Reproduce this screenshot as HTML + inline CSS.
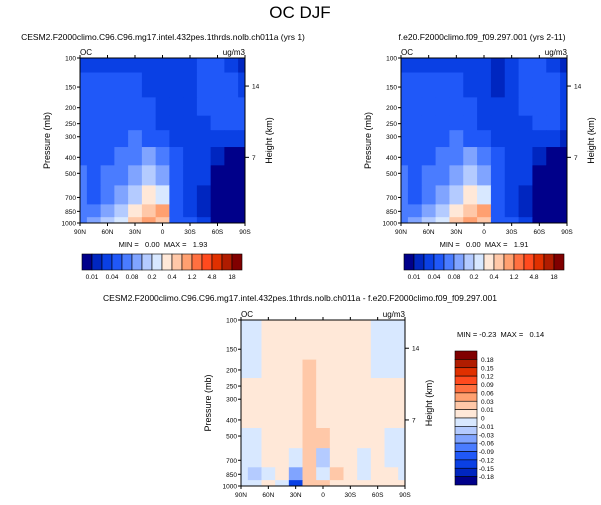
<!DOCTYPE html>
<html><head><meta charset="utf-8"><style>
body{margin:0;background:#fff;}
svg{display:block;font-family:"Liberation Sans",sans-serif;}
text{white-space:pre;}
</style></head><body>
<svg id="s" width="601" height="505"></svg>
<script>
const lats=['90N','75N','60N','45N','30N','15N','0','15S','30S','45S','60S','75S','90S'];
const levels=[100,150,200,250,300,400,500,700,850,1000];
const topThresholds=[0.01,0.02,0.04,0.06,0.08,0.1,0.2,0.3,0.4,0.8,1.2,2.4,4.8,9.6,18];
const topLabels=['0.01','0.04','0.08','0.2','0.4','1.2','4.8','18'];
const diffThresholds=[-0.18,-0.15,-0.12,-0.09,-0.06,-0.03,-0.01,0,0.01,0.03,0.06,0.09,0.12,0.15,0.18];
const diffLabels=['0.18','0.15','0.12','0.09','0.06','0.03','0.01','0','-0.01','-0.03','-0.06','-0.09','-0.12','-0.15','-0.18'];
const palette=['#00008a','#0026c0','#0a40e4','#2058f8','#4a7cff','#80a4ff','#b4cbff','#d8e8ff','#ffe8d8','#ffc8a8','#ffa070','#ff7040','#ff4a1e','#e03000','#b01c00','#800000'];
const cv=[0.005,0.015,0.03,0.05,0.07,0.09,0.15,0.25,0.35,0.6,1.0,1.8];
const dv=[-0.2,-0.16,-0.13,-0.1,-0.07,-0.04,-0.02,-0.005,0.005,0.02,0.04];
const leftField=[
[2,2,2,2,2,2,2,2,2,3,3,2,1],
[3,3,3,3,3,2,2,2,2,3,3,3,2],
[3,3,3,3,3,3,2,2,2,3,3,3,3],
[3,3,3,3,3,3,2,2,2,2,3,3,3],
[3,3,3,3,4,3,3,2,2,2,2,2,2],
[3,3,3,4,4,5,4,3,2,2,1,0,0],
[4,3,4,4,5,6,5,3,2,2,0,0,0],
[4,3,4,5,6,8,7,3,2,1,0,0,0],
[4,4,5,6,8,9,10,3,2,1,0,0,0],
[4,5,6,7,9,10,9,3,3,2,0,0,0]].map(r=>r.map(i=>cv[i]));
const rightField=[
[2,2,2,2,2,2,2,1,2,3,3,2,1],
[3,3,3,3,3,2,2,1,2,3,3,3,2],
[3,3,3,3,3,3,2,2,2,3,3,3,2],
[3,3,3,3,3,3,2,2,2,2,3,3,2],
[3,3,3,3,4,3,3,2,2,2,2,2,1],
[3,3,3,4,4,5,4,3,2,2,1,0,0],
[4,3,4,4,5,6,5,3,2,2,0,0,0],
[4,3,4,5,6,8,7,3,2,1,0,0,0],
[4,4,5,6,8,9,10,3,2,1,0,0,0],
[4,5,6,7,9,10,9,3,3,2,0,0,0]].map(r=>r.map(i=>cv[i]));
const diffField=[
[7,7,8,8,8,8,8,8,8,8,7,7,7],
[7,7,8,8,8,8,8,8,8,8,7,7,7],
[7,7,8,8,8,9,8,8,8,8,7,7,7],
[8,8,8,8,8,9,8,8,8,8,8,8,8],
[8,8,8,8,8,9,8,8,8,8,8,8,8],
[8,8,8,8,8,9,8,8,8,8,8,8,8],
[7,7,8,8,8,9,9,8,8,8,8,7,7],
[7,7,8,8,7,9,6,8,8,7,8,7,7],
[7,6,7,8,5,9,7,9,8,7,8,8,7],
[7,7,8,7,2,9,9,8,8,8,8,8,8]].map(r=>r.map(i=>dv[i]));

const NS='http://www.w3.org/2000/svg';
const svg=document.getElementById('s');
function el(tag,attrs,parent,text){const e=document.createElementNS(NS,tag);for(const k in attrs)e.setAttribute(k,attrs[k]);if(text!==undefined)e.textContent=text;(parent||svg).appendChild(e);return e;}
function cls(v,th){let i=0;while(i<th.length&&v>=th[i])i++;return i;}

function panel(x0,y0,w,h,field,th,name){
  const g=el('g',{},svg);
  
  
  const xs=i=>x0+w*i/(lats.length-1);
  const ys=p=>y0+h*Math.log10(p/100);
  for(let r=0;r<levels.length;r++){
    const ya=r===0?y0:(ys(levels[r-1])+ys(levels[r]))/2;
    const yb=r===levels.length-1?y0+h:(ys(levels[r])+ys(levels[r+1]))/2;
    for(let c=0;c<lats.length;c++){
      const xa=c===0?x0:(xs(c-1)+xs(c))/2;
      const xb=c===lats.length-1?x0+w:(xs(c)+xs(c+1))/2;
      const rc=el('rect',{x:xa,y:ya,width:xb-xa+0.5,height:yb-ya+0.5,fill:palette[cls(field[r][c],th)]},g);
      
      
    }
  }
  el('rect',{x:x0,y:y0,width:w,height:h,fill:'none',stroke:'#000','stroke-width':1},g);
  levels.forEach(p=>{const y=ys(p);
    el('line',{x1:x0-3,x2:x0,y1:y,y2:y,stroke:'#000'},g);
    const t=el('text',{x:x0-4,y:y+2.5,'font-size':6.5,'text-anchor':'end'},g,p);
    
  });
  lats.forEach((l,i)=>{if(i%2)return;const x=xs(i);
    el('line',{x1:x,x2:x,y1:y0+h,y2:y0+h+3,stroke:'#000'},g);
    el('line',{x1:x,x2:x,y1:y0,y2:y0-3,stroke:'#000'},g);
    const t=el('text',{x:x,y:y0+h+11,'font-size':6.5,'text-anchor':'middle'},g,l);
    
  });
  [[14,ys(150)-1],[7,ys(400)]].forEach(([k,y])=>{
    el('line',{x1:x0+w,x2:x0+w+4,y1:y,y2:y,stroke:'#000'},g);
    el('text',{x:x0+w+7,y:y+2.5,'font-size':6.5},g,k);
  });
  const yt=el('text',{transform:`translate(${x0-30},${y0+h/2}) rotate(-90)`,'font-size':9,'text-anchor':'middle'},g,'Pressure (mb)');
  
  const rt=el('text',{transform:`translate(${x0+w+27},${y0+h/2}) rotate(-90)`,'font-size':9,'text-anchor':'middle'},g,'Height (km)');
  
  el('text',{x:x0,y:y0-3,'font-size':8},g,'OC');
  el('text',{x:x0+w,y:y0-3,'font-size':8,'text-anchor':'end'},g,'ug/m3');
}
function hbar(x0,y0,w,h,labels,name){
  const g=el('g',{},svg);
  
  const bw=w/16;
  palette.forEach((c,i)=>el('rect',{x:x0+i*bw,y:y0,width:bw,height:h,fill:c,stroke:'#000','stroke-width':0.6},g));
  labels.forEach((l,i)=>el('text',{x:x0+bw*(2*i+1),y:y0+h+9,'font-size':6.5,'text-anchor':'middle'},g,l));
}
function vbar(x0,y0,w,h,labels,name){
  const g=el('g',{},svg);
  
  const bh=h/16;
  palette.slice().reverse().forEach((c,i)=>el('rect',{x:x0,y:y0+i*bh,width:w,height:bh,fill:c,stroke:'#000','stroke-width':0.6},g));
  labels.forEach((l,i)=>el('text',{x:x0+w+(l.startsWith('-')?2:4),y:y0+bh*(i+1)+2.5,'font-size':6.5},g,l));
}
const T=(x,y,s,t,a,n)=>{const e=el('text',{x,y,'font-size':s,'text-anchor':a||'middle'},svg,t);return e;};
T(300,18,17,'OC DJF','middle','figure-title');
T(163,40,8.5,'CESM2.F2000climo.C96.C96.mg17.intel.432pes.1thrds.nolb.ch011a (yrs 1)','middle','left-panel-title');
T(482,40,8.5,'f.e20.F2000climo.f09_f09.297.001 (yrs 2-11)','middle','right-panel-title');
T(300,301,8.5,'CESM2.F2000climo.C96.C96.mg17.intel.432pes.1thrds.nolb.ch011a - f.e20.F2000climo.f09_f09.297.001','middle','diff-panel-title');
panel(80,58,165,165,leftField,topThresholds,'left-contour-panel');
panel(401,58,166,165,rightField,topThresholds,'right-contour-panel');
panel(241,320,164,166,diffField,diffThresholds,'diff-contour-panel');
T(163,247,7.5,'MIN =   0.00  MAX =   1.93','middle','left-min-max');
T(484,247,7.5,'MIN =   0.00  MAX =   1.91','middle','right-min-max');
T(457,337,7.5,'MIN = -0.23  MAX =   0.14','start','diff-min-max');
hbar(82,254,160,16,topLabels,'left-colorbar');
hbar(404,254,160,16,topLabels,'right-colorbar');
vbar(455,351,22,134,diffLabels,'diff-colorbar');
</script>
</body></html>
